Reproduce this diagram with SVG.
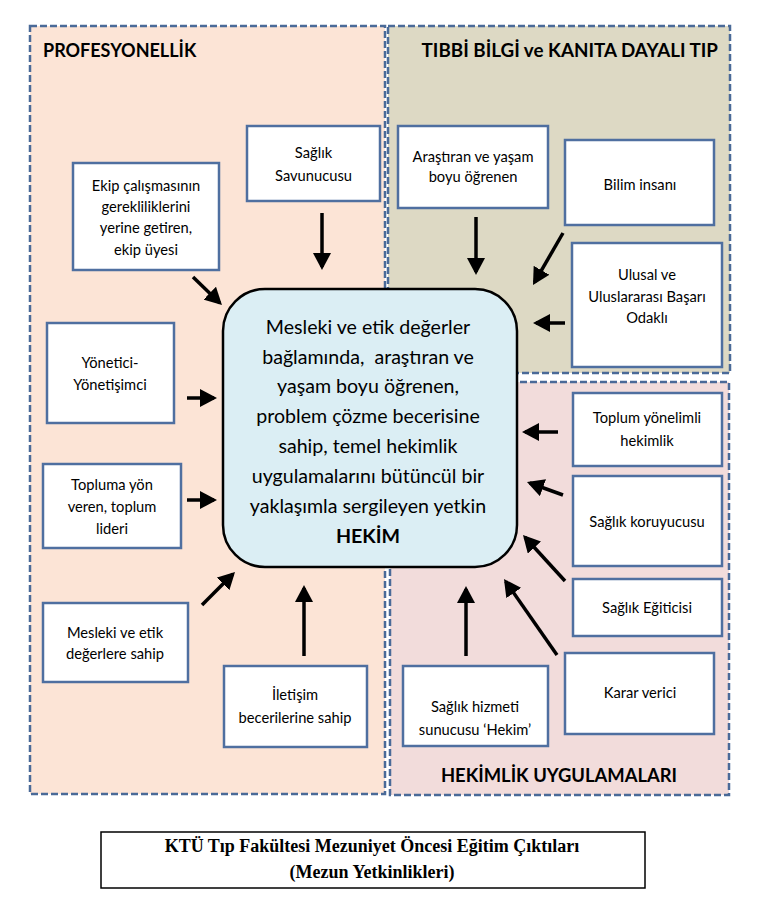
<svg xmlns="http://www.w3.org/2000/svg" width="760" height="900" viewBox="0 0 760 900">
<style>
.panel{stroke:#4a6a98;stroke-width:2.5;stroke-dasharray:7 3;}
.box{fill:#ffffff;stroke:#4f6fa0;stroke-width:2.5;}
.t{font-family:Lato,"Open Sans",sans-serif;font-size:14.7px;fill:#000;text-anchor:middle;}
.hd{font-family:Lato,"Open Sans",sans-serif;font-size:18px;font-weight:bold;fill:#000;}
.ct{font-family:Lato,"Open Sans",sans-serif;font-size:19.6px;fill:#000;text-anchor:middle;}
.cap{font-family:"Liberation Serif","Times New Roman",serif;font-size:18px;font-weight:bold;fill:#000;text-anchor:middle;}
.arr{stroke:#000;stroke-width:3.5;fill:none;marker-end:url(#ah);}
</style>
<defs>
<marker id="ah" markerUnits="userSpaceOnUse" markerWidth="17" markerHeight="18" refX="14" refY="9" orient="auto">
<path d="M0,0 L17,9 L0,18 z" fill="#000"/>
</marker>
</defs>
<rect width="760" height="900" fill="#ffffff"/>
<g id="panels">
<g id="panel-profesyonellik">
<rect class="panel" x="30" y="26" width="355" height="768" fill="#fce4d6"/>
<text class="hd" x="43" y="57">PROFESYONELLİK</text>
</g>
<g id="panel-tibbi">
<rect class="panel" x="388" y="26" width="342" height="347" fill="#ddd9c4"/>
<text class="hd" x="718" y="57" style="text-anchor:end;font-size:18.8px">TIBBİ BİLGİ ve KANITA DAYALI TIP</text>
</g>
<g id="panel-hekimlik">
<rect class="panel" x="390" y="382" width="339" height="413" fill="#f2dcdb"/>
<text class="hd" x="559" y="782" style="text-anchor:middle;font-size:18.4px">HEKİMLİK UYGULAMALARI</text>
</g>
</g>
<g id="connectors">
<line class="arr" x1="193" y1="277" x2="219.8" y2="302.9"/>
<line class="arr" x1="322" y1="213" x2="322" y2="267"/>
<line class="arr" x1="187" y1="398" x2="214" y2="398"/>
<line class="arr" x1="187" y1="500" x2="214" y2="500"/>
<line class="arr" x1="202" y1="605" x2="232.9" y2="574.1"/>
<line class="arr" x1="304" y1="656" x2="304" y2="588"/>
<line class="arr" x1="476" y1="217" x2="476" y2="272"/>
<line class="arr" x1="563" y1="233" x2="534.5" y2="282.4"/>
<line class="arr" x1="565" y1="323" x2="536" y2="323"/>
<line class="arr" x1="558" y1="432" x2="525" y2="432"/>
<line class="arr" x1="563" y1="495" x2="529.8" y2="483"/>
<line class="arr" x1="565" y1="581" x2="525" y2="537.2"/>
<line class="arr" x1="557" y1="655" x2="505.7" y2="581.5"/>
<line class="arr" x1="466" y1="656" x2="466" y2="589"/>
</g>
<g id="center">
<rect x="223" y="289" width="294" height="278" rx="42" ry="42" fill="#dbeef4" stroke="#000" stroke-width="2.5"/>
<text class="ct" x="368" y="334">Mesleki ve etik değerler</text>
<text class="ct" x="368" y="364">bağlamında, &#160;araştıran ve</text>
<text class="ct" x="368" y="393">yaşam boyu öğrenen,</text>
<text class="ct" x="368" y="423">problem çözme becerisine</text>
<text class="ct" x="368" y="453">sahip, temel hekimlik</text>
<text class="ct" x="368" y="483">uygulamalarını bütüncül bir</text>
<text class="ct" x="368" y="513">yaklaşımla sergileyen yetkin</text>
<text class="ct" x="368" y="543" font-weight="bold">HEKİM</text>
</g>
<g id="n-ekip">
<rect class="box" x="73" y="163" width="146" height="107"/>
<text class="t" x="146" y="191">Ekip çalışmasının</text>
<text class="t" x="146" y="212">gerekliliklerini</text>
<text class="t" x="146" y="233">yerine getiren,</text>
<text class="t" x="146" y="255">ekip üyesi</text>
</g>
<g id="n-savunucu">
<rect class="box" x="247" y="126" width="133" height="75"/>
<text class="t" x="313.5" y="158">Sağlık</text>
<text class="t" x="313.5" y="181">Savunucusu</text>
</g>
<g id="n-yonetici">
<rect class="box" x="47" y="323" width="127" height="100"/>
<text class="t" x="110" y="368">Yönetici-</text>
<text class="t" x="110" y="390">Yönetişimci</text>
</g>
<g id="n-topluma">
<rect class="box" x="43" y="464" width="138" height="84"/>
<text class="t" x="112" y="490">Topluma yön</text>
<text class="t" x="112" y="512">veren, toplum</text>
<text class="t" x="112" y="534">lideri</text>
</g>
<g id="n-mesleki">
<rect class="box" x="43" y="603" width="145" height="79"/>
<text class="t" x="115" y="638">Mesleki ve etik</text>
<text class="t" x="115" y="659">değerlere sahip</text>
</g>
<g id="n-iletisim">
<rect class="box" x="224" y="666" width="143" height="81"/>
<text class="t" x="295" y="700">İletişim</text>
<text class="t" x="295" y="723">becerilerine sahip</text>
</g>
<g id="n-arastiran">
<rect class="box" x="398" y="126" width="150" height="82"/>
<text class="t" x="473" y="162">Araştıran ve yaşam</text>
<text class="t" x="473" y="182">boyu öğrenen</text>
</g>
<g id="n-bilim">
<rect class="box" x="565" y="140" width="149" height="85"/>
<text class="t" x="640" y="190">Bilim insanı</text>
</g>
<g id="n-ulusal">
<rect class="box" x="572" y="243" width="150" height="124"/>
<text class="t" x="647" y="280">Ulusal ve</text>
<text class="t" x="647" y="302">Uluslararası Başarı</text>
<text class="t" x="647" y="323">Odaklı</text>
</g>
<g id="n-toplum">
<rect class="box" x="573" y="393" width="149" height="73"/>
<text class="t" x="647" y="423">Toplum yönelimli</text>
<text class="t" x="647" y="446">hekimlik</text>
</g>
<g id="n-koruyucu">
<rect class="box" x="573" y="476" width="149" height="90"/>
<text class="t" x="647" y="527">Sağlık koruyucusu</text>
</g>
<g id="n-egitici">
<rect class="box" x="573" y="579" width="149" height="57"/>
<text class="t" x="647" y="613">Sağlık Eğiticisi</text>
</g>
<g id="n-karar">
<rect class="box" x="565" y="653" width="149" height="81"/>
<text class="t" x="640" y="698">Karar verici</text>
</g>
<g id="n-hizmet">
<rect class="box" x="403" y="666" width="145" height="80"/>
<text class="t" x="475" y="712">Sağlık hizmeti</text>
<text class="t" x="475" y="735">sunucusu ‘Hekim’</text>
</g>
<g id="caption">
<rect x="101" y="832" width="544" height="56" fill="#ffffff" stroke="#000" stroke-width="1.5"/>
<text class="cap" x="372" y="852">KTÜ Tıp Fakültesi Mezuniyet Öncesi Eğitim Çıktıları</text>
<text class="cap" x="372" y="878">(Mezun Yetkinlikleri)</text>
</g>
</svg>
